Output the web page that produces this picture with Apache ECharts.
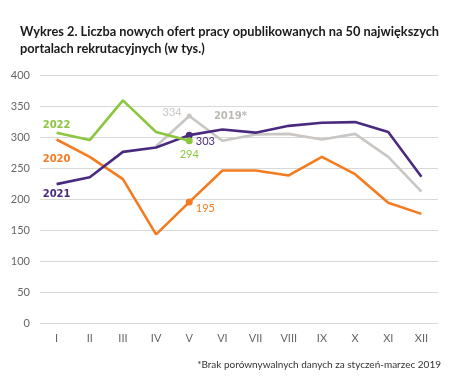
<!DOCTYPE html>
<html><head><meta charset="utf-8">
<script src="https://cdn.jsdelivr.net/npm/echarts@6/dist/echarts.min.js"></script>
<style>html,body{margin:0;padding:0;background:#fff}#c{width:472px;height:383px}</style>
</head><body><div id="c"></div>
<script>
const months = ['I','II','III','IV','V','VI','VII','VIII','IX','X','XI','XII'];
const yTicks = [0,50,100,150,200,250,300,350,400];
const s2022 = [307,295,359,308,294,null,null,null,null,null,null,null];
const s2021 = [224,235,276,283,303,312,307,318,323,324,308,236];
const s2020 = [296,268,232,143,195,246,246,238,268,240,194,176];
const s2019 = [null,null,null,285,334,294,304,305,296,305,268,212];
const title = 'Wykres 2. Liczba nowych ofert pracy opublikowanych na 50 największych\nportalach rekrutacyjnych (w tys.)';
const footnote = '*Brak porównywalnych danych za styczeń-marzec 2019';

const C = {g:'#8cc63e', p:'#4a2a7f', o:'#f47b20', gr:'#c9c6c3'};
const FF = 'Lato, "Open Sans", sans-serif';
const FN = '"DejaVu Sans", sans-serif';

function build(arr, color, nameLabel, namePos, nameIdx, valLabel){
  return arr.map((v,i)=>{
    if(v==null) return null;
    const item = {value:v};
    if(i===4){
      item.symbol='circle'; item.symbolSize= color===C.gr?5:7;
      item.itemStyle={color};
      item.label={show:true, formatter:String(v), color, fontSize:11, fontFamily:FF, ...valLabel};
    }
    if(i===nameIdx){
      item.symbol='circle'; item.symbolSize=1; item.itemStyle={color:'rgba(0,0,0,0)'};
      item.label={show:true, formatter:nameLabel, color: color===C.gr?'#bcb9b5':color, fontSize:10, fontWeight:'bold', fontFamily:FN, ...namePos};
    }
    return item;
  });
}

const chart = echarts.init(document.getElementById('c'), null, {renderer:'canvas'});
const mk = (name, arr, color, nameLabel, namePos, nameIdx, valLabel, z) => ({
  name, type:'line', data: build(arr,color,nameLabel,namePos,nameIdx,valLabel),
  symbol:'none', showSymbol:true, lineStyle:{color, width:2.6}, itemStyle:{color}, z, animation:false,
  connectNulls:false
});
chart.setOption({
  animation:false,
  title:{text:title, left:15, top:18, textStyle:{fontSize:12.8, fontWeight:'bold', color:'#1a1a1a', fontFamily:FF, lineHeight:17}},
  graphic:[{type:'text', right:31, top:360, style:{text:footnote, fontSize:10, fill:'#333', fontFamily:FF}}],
  grid:{left:40, right:34, top:75, bottom:60},
  xAxis:{type:'category', data:months, boundaryGap:true,
    axisLine:{show:false}, axisTick:{show:false},
    axisLabel:{color:'#666', fontSize:11, fontFamily:FF, margin:10}},
  yAxis:{type:'value', min:yTicks[0], max:yTicks[yTicks.length-1], interval:50,
    axisLine:{show:false}, axisTick:{show:false},
    axisLabel:{color:'#666', fontSize:11, fontFamily:FF, margin:10},
    splitLine:{lineStyle:{color:'#d9d9d9', width:1}}},
  series:[
    mk('2019', s2019, C.gr, '2019*', {position:'top', offset:[8,-14]}, 5, {position:'left', offset:[0,-3]}, 1),
    mk('2020', s2020, C.o, '2020', {position:'bottom', offset:[0,9]}, 0, {position:'right', offset:[-2,6]}, 2),
    mk('2021', s2021, C.p, '2021', {position:'bottom', offset:[0,0]}, 0, {position:'right', offset:[-2,6]}, 3),
    mk('2022', s2022, C.g, '2022', {position:'top', offset:[0,3]}, 0, {position:'bottom', offset:[0,0]}, 4)
  ]
});
</script></body></html>
